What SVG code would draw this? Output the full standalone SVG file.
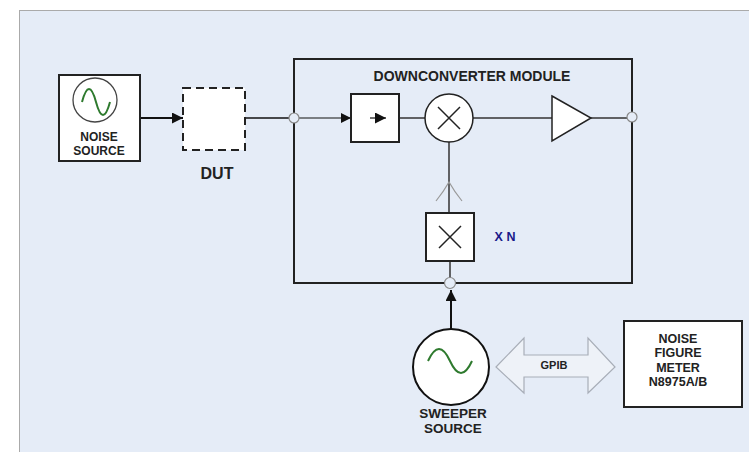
<svg xmlns="http://www.w3.org/2000/svg" width="749" height="452" viewBox="0 0 749 452">
<defs>
<style>
.lbl{font-family:"Liberation Sans",Arial,sans-serif;font-weight:bold;fill:#222;text-anchor:middle}
.box{fill:#fff;stroke:#222;stroke-width:2}
.wire{fill:none;stroke:#333;stroke-width:1.5}
.port{fill:#e5ecf7;stroke:#888;stroke-width:1.2}
.sine{fill:none;stroke:#2e7a2e;stroke-width:2}
</style>
<marker id="ah" viewBox="0 0 10 10" refX="10" refY="5" markerWidth="10" markerHeight="10" markerUnits="userSpaceOnUse" orient="auto">
<path d="M0,0 L10,5 L0,10 z" fill="#111"/>
</marker>
<marker id="ahs" viewBox="0 0 10 10" refX="10" refY="5" markerWidth="13" markerHeight="11" markerUnits="userSpaceOnUse" orient="auto">
<path d="M0,0 L10,5 L0,10 z" fill="#111"/>
</marker>
</defs>
<rect x="0" y="0" width="749" height="452" fill="#fff"/>
<rect x="19.5" y="10.5" width="740" height="450" fill="#e5ecf7" stroke="#aaa" stroke-width="1"/>

<g id="connectors">
<line x1="140" y1="118" x2="183" y2="118" stroke="#111" stroke-width="2" marker-end="url(#ahs)"/>
<line x1="245" y1="118" x2="289" y2="118" stroke="#111" stroke-width="1.5"/>
<line x1="299" y1="118" x2="351" y2="118" stroke="#111" stroke-width="1.2" marker-end="url(#ah)"/>
<line x1="399" y1="118" x2="425" y2="118" class="wire"/>
<line x1="473" y1="118" x2="552" y2="118" class="wire"/>
<line x1="591" y1="118" x2="627" y2="118" class="wire"/>
<line x1="449" y1="142" x2="449" y2="213" class="wire"/>
<path d="M436,201 Q444,191 449,182 Q454,191 462,201" fill="none" stroke="#999" stroke-width="1.2"/>
<line x1="450" y1="261" x2="450" y2="278" class="wire"/>
<line x1="451" y1="329" x2="451" y2="290" stroke="#111" stroke-width="2" marker-end="url(#ahs)"/>
</g>

<g id="noise-source">
<rect x="59" y="75" width="81" height="86" class="box"/>
<circle cx="95" cy="100" r="22" fill="#fff" stroke="#444" stroke-width="1.3"/>
<path d="M82,102 Q89,76 96,102 Q103,128 110,102" class="sine" stroke-width="1.5"/>
<text x="99" y="141" class="lbl" font-size="12">NOISE</text>
<text x="99" y="155" class="lbl" font-size="12">SOURCE</text>
</g>

<g id="dut">
<rect x="183" y="88" width="62" height="62" fill="#fff" stroke="#222" stroke-width="2" stroke-dasharray="8,5"/>
<text x="217" y="179" class="lbl" font-size="16">DUT</text>
</g>

<g id="downconverter">
<rect x="294" y="59" width="338" height="224" fill="none" stroke="#222" stroke-width="2"/>
<text x="472" y="81" class="lbl" font-size="14">DOWNCONVERTER MODULE</text>
<circle cx="294" cy="118" r="5" class="port"/>
<circle cx="632" cy="117" r="5" class="port"/>
<circle cx="450" cy="283" r="5.5" class="port"/>
</g>

<g id="isolator">
<rect x="351" y="94" width="48" height="48" class="box" stroke-width="1.5"/>
<line x1="370" y1="118" x2="386" y2="118" stroke="#111" stroke-width="1.2" marker-end="url(#ahs)"/>
</g>

<g id="mixer">
<circle cx="449" cy="118" r="24" fill="#fff" stroke="#222" stroke-width="1.5"/>
<path d="M438,107 L460,129 M460,107 L438,129" stroke="#222" stroke-width="1.5"/>
</g>

<g id="amplifier">
<path d="M552,96 L591,118 L552,141 z" fill="#fff" stroke="#222" stroke-width="1.5"/>
</g>

<g id="multiplier">
<rect x="426" y="213" width="48" height="48" class="box" stroke-width="1.5"/>
<path d="M439,226 L461,248 M461,226 L439,248" stroke="#222" stroke-width="1.5"/>
<text x="505" y="241" class="lbl" font-size="12.5" style="fill:#1a1a8a">X N</text>
</g>

<g id="sweeper-source">
<circle cx="451" cy="367" r="38" fill="#fff" stroke="#111" stroke-width="2"/>
<path d="M428,361 Q439,337 450,361 Q461,385 472,361" class="sine"/>
<text x="453" y="418" class="lbl" font-size="13.5">SWEEPER</text>
<text x="453" y="433" class="lbl" font-size="13.5">SOURCE</text>
</g>

<g id="gpib">
<path d="M496,367 L524,338 L524,355 L588,355 L588,338 L615,367 L588,393 L588,377 L524,377 L524,393 z" fill="#eef2f8" stroke="#a8aeb8" stroke-width="1.2"/>
<text x="554" y="369" class="lbl" font-size="11">GPIB</text>
</g>

<g id="noise-figure-meter">
<rect x="624" y="321" width="118" height="86" class="box"/>
<text x="678" y="343" class="lbl" font-size="12.5">NOISE</text>
<text x="678" y="357" class="lbl" font-size="12.5">FIGURE</text>
<text x="678" y="372" class="lbl" font-size="12.5">METER</text>
<text x="678" y="386" class="lbl" font-size="12.5">N8975A/B</text>
</g>
</svg>
